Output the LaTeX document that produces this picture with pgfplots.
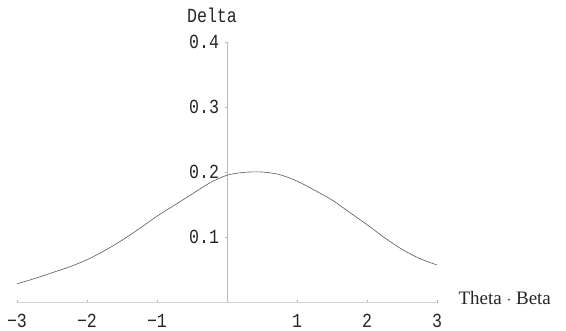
\documentclass[border=0pt]{standalone}
\usepackage{fontspec}
\setmainfont{Liberation Serif}
\newfontfamily\monof[FakeStretch=0.83]{Liberation Mono}
\usepackage{pgfplots}
\pgfplotsset{compat=1.18}
\begin{document}
\begin{tikzpicture}[x=1pt,y=1pt]
\useasboundingbox (-17,-29) rectangle (549,302);
\begin{axis}[
  at={(0,0)}, anchor=south west,
  scale only axis, width=420pt, height=260pt,
  axis lines=middle,
  x axis line style={-, gray!35, line width=0.6pt},
  y axis line style={-, gray!55, line width=0.5pt},
  xmin=-3, xmax=3, ymin=0, ymax=0.4,
  xtick={-3,-2,-1,1,2,3},
  xticklabels={−3,−2,−1,1,2,3},
  ytick={0.1,0.2,0.3,0.4},
  yticklabels={0.1,0.2,0.3,0.4},
  tick style={gray!60, line width=0.4pt},
  major tick length=3pt,
  tick align=center,
  x tick label style={font=\fontsize{20}{22}\monof, text=black!85, yshift=-7pt},
  y tick label style={font=\fontsize{20}{22}\monof, text=black!85, xshift=-3pt},
  clip=false,
]
\addplot[black!65, line width=0.6pt, smooth] coordinates {
(-3,0.028) (-2.75,0.036) (-2.5,0.045) (-2.25,0.054) (-2,0.065)
(-1.75,0.079) (-1.5,0.095) (-1.25,0.113) (-1,0.132) (-0.75,0.149)
(-0.5,0.166) (-0.25,0.183) (0,0.195) (0.25,0.1995) (0.5,0.200)
(0.75,0.196) (1,0.186) (1.25,0.172) (1.5,0.157) (1.75,0.138)
(2,0.119) (2.25,0.099) (2.5,0.081) (2.75,0.067) (3,0.057)
};
\node[anchor=base, font=\fontsize{20}{22}\monof, text=black!85] at ([xshift=-15pt,yshift=19pt]axis cs:0,0.4) {Delta};
\node[anchor=base west, font=\fontsize{19}{22}\selectfont, text=black!85] at ([xshift=18pt,yshift=-3pt]axis cs:3,0) {Theta $\cdot$ Beta};
\end{axis}
\end{tikzpicture}
\end{document}
